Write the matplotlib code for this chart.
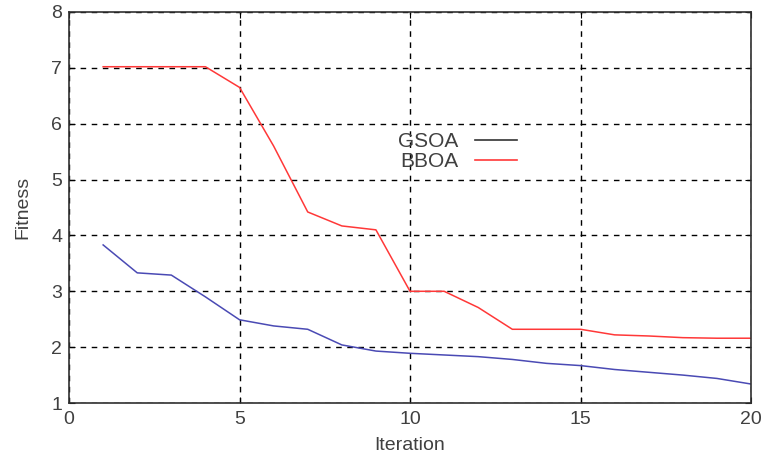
import numpy as np
import matplotlib
matplotlib.use("Agg")
import matplotlib.pyplot as plt
from matplotlib.lines import Line2D

plt.rcParams["font.family"] = ["Liberation Sans", "DejaVu Sans"]

iteration = list(range(1, 21))
gsoa = [3.83, 3.33, 3.29, 2.90, 2.49, 2.38, 2.32, 2.04, 1.93, 1.89,
        1.86, 1.83, 1.78, 1.71, 1.67, 1.60, 1.55, 1.50, 1.44, 1.34]
bboa = [7.02, 7.02, 7.02, 7.02, 6.65, 5.60, 4.42, 4.17, 4.10, 3.00,
        3.00, 2.71, 2.32, 2.32, 2.32, 2.22, 2.20, 2.17, 2.16, 2.16]

text_col = "#404040"

fig = plt.figure(figsize=(7.62, 4.54), dpi=100)
ax = fig.add_axes([0.0906, 0.1123, 0.895, 0.8613])

ax.plot(iteration, gsoa, color="#4a4ab4", lw=1.1)
ax.plot(iteration, bboa, color="#ff3838", lw=1.1)

ax.set_xlim(0, 20)
ax.set_ylim(1, 8)
ax.set_xticks([0, 5, 10, 15, 20])
ax.set_yticks(range(1, 9))
ax.grid(True, color="black", linestyle=(0, (4, 4)), lw=1.0)
ax.tick_params(direction="in", length=4, labelsize=14, colors="black",
               labelcolor=text_col, top=True, right=True)
ax.tick_params(axis="y", pad=5)
ax.tick_params(axis="x", pad=6)
for s in ax.spines.values():
    s.set_color("#303030")
    s.set_linewidth(1.2)

ax.set_xlabel("Iteration", fontsize=14, color=text_col, labelpad=6)
ax.set_ylabel("Fitness", fontsize=14, color=text_col, labelpad=14)

# legend with handles after the labels
handles = [Line2D([], [], color="#333333", lw=1.2),
           Line2D([], [], color="#ff3838", lw=1.2)]
leg = ax.legend(handles, ["GSOA", "BBOA"], loc="upper left",
                bbox_to_anchor=(388 / 762, 1 - 122 / 454),
                bbox_transform=fig.transFigure, frameon=False,
                markerfirst=False, fontsize=15, handlelength=2.0,
                handletextpad=0.8, labelspacing=0.05, borderpad=0)
for t in leg.get_texts():
    t.set_color(text_col)

fig.savefig("out.png", dpi=100)
